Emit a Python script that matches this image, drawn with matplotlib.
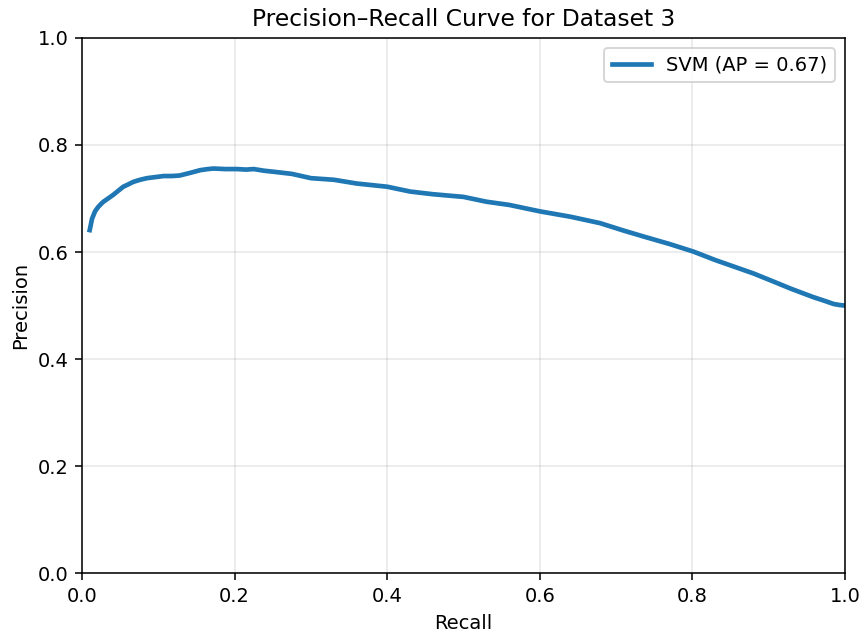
import matplotlib
matplotlib.use('Agg')
import matplotlib.pyplot as plt

# Values
recall = [0.010, 0.011, 0.013, 0.017, 0.021, 0.025, 0.028, 0.034, 0.041, 0.047,
          0.054, 0.060, 0.067, 0.076, 0.085, 0.096, 0.107, 0.118, 0.128, 0.142,
          0.155, 0.165, 0.172, 0.188, 0.203, 0.215, 0.225, 0.238, 0.251, 0.275,
          0.300, 0.330, 0.360, 0.400, 0.430, 0.460, 0.500, 0.530, 0.560, 0.600,
          0.640, 0.679, 0.710, 0.736, 0.770, 0.801, 0.830, 0.854, 0.880, 0.906,
          0.930, 0.958, 0.975, 0.985, 0.993, 1.000]
precision = [0.641, 0.648, 0.662, 0.676, 0.684, 0.690, 0.694, 0.700, 0.707, 0.714,
             0.722, 0.726, 0.731, 0.735, 0.738, 0.740, 0.742, 0.742, 0.743, 0.748,
             0.753, 0.755, 0.756, 0.755, 0.755, 0.754, 0.755, 0.752, 0.750, 0.746,
             0.738, 0.735, 0.728, 0.722, 0.713, 0.708, 0.703, 0.694, 0.688, 0.676,
             0.666, 0.654, 0.640, 0.629, 0.615, 0.601, 0.585, 0.573, 0.560, 0.545,
             0.531, 0.516, 0.508, 0.503, 0.501, 0.500]

ap = 0.67

fig, ax = plt.subplots(figsize=(864 / 140, 632 / 140), dpi=140)

ax.plot(recall, precision, color='#1f77b4', linewidth=2.4, label=f'SVM (AP = {ap:.2f})')

# Set title and labels
ax.set_title('Precision\u2013Recall Curve for Dataset 3', fontsize=12)
ax.set_xlabel('Recall')
ax.set_ylabel('Precision')
ax.set_xlim(0, 1)
ax.set_ylim(0, 1)

# Light grid
ax.grid(True, alpha=0.3)

ax.legend(loc='upper right')

fig.subplots_adjust(left=0.095, right=0.978, top=0.94, bottom=0.093)
fig.savefig('out.png', dpi=140)
